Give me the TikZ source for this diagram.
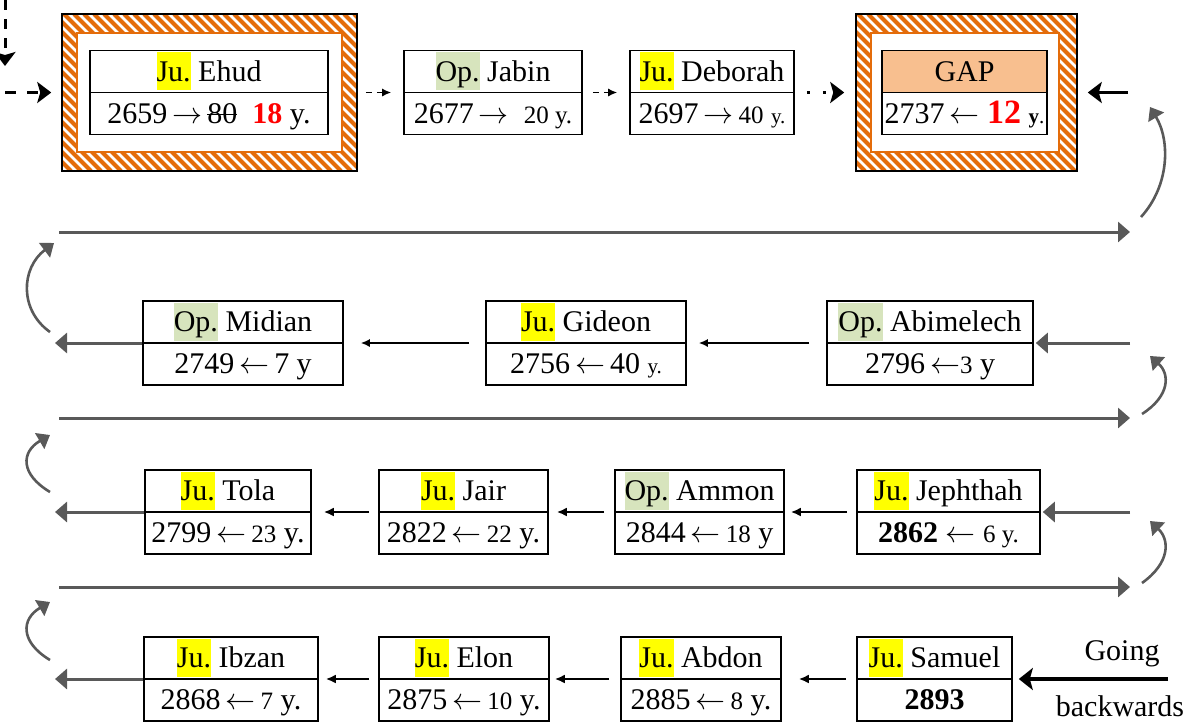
\RequirePackage{fix-cm}
\documentclass[tikz,border=0pt]{standalone}
\usepackage{fontspec}
\setmainfont{Liberation Serif}
\usetikzlibrary{shapes.multipart,arrows.meta}
\definecolor{juyel}{RGB}{255,255,0}
\definecolor{opgrn}{RGB}{215,228,189}
\definecolor{hatchor}{RGB}{228,108,10}
\definecolor{gappeach}{RGB}{248,191,143}
\definecolor{grayc}{RGB}{89,89,89}
\newcommand{\cst}{\rule[-10.5pt]{0pt}{40.5pt}}
\newcommand{\ju}{{\setlength{\fboxsep}{0pt}\colorbox{juyel}{\rule[-9pt]{0pt}{38pt}Ju.}}}
\newcommand{\op}{{\setlength{\fboxsep}{0pt}\colorbox{opgrn}{\rule[-9pt]{0pt}{38pt}Op.}}}
\newcommand{\sm}[1]{{\fontsize{25}{28}\selectfont #1}}
\newcommand{\tn}[1]{{\fontsize{21}{25}\selectfont #1}}
\newcommand{\strk}[1]{\setbox0\hbox{#1}\rlap{\rule[8pt]{\wd0}{1.6pt}}\box0}
\newcommand{\myla}{$\leftarrow$}
\newcommand{\myra}{$\rightarrow$}
\begin{document}
\begin{tikzpicture}[x=1pt,y=-1pt,
  jbox/.style={rectangle split, rectangle split parts=2, draw, line width=1.6pt,
    inner xsep=2pt, inner ysep=0pt, font=\fontsize{30}{34}\selectfont},
  frm/.style={draw, line width=1.5pt, inner sep=0pt},
  hatchline/.style={hatchor, line width=4pt},
  blk/.style={line width=1.5pt, -{Latex[length=9pt,width=8pt]}},
  blkm/.style={line width=2.2pt, -{Latex[length=10pt,width=9pt]}},
  thin dash/.style={line width=1.5pt, dash pattern=on 6pt off 5pt, -{Latex[length=9pt,width=8pt]}},
  big/.style={line width=3pt, -{Stealth[length=14pt,width=21pt,inset=3pt]}},
  gry/.style={draw=grayc, line width=3pt, -{Triangle[length=12pt,width=20pt]}},
  gcur/.style={draw=grayc, line width=2.6pt, -{Triangle[length=12pt,width=18pt]}},
  lbl/.style={font=\fontsize{30}{34}\selectfont, inner sep=0pt, anchor=base}
]
\useasboundingbox (0,0) rectangle (1194,721);

% ---------- hatched frames ----------
\begin{scope}
  \clip (62,14) rectangle (357,171);
  \foreach \i in {0,...,46} \draw[hatchline] (-96+\i*10,14) -- ++(157,157);
\end{scope}
\draw[hatchor, line width=2.2pt, fill=white] (77,33) rectangle (342,152);
\node[frm, minimum width=295pt, minimum height=157pt] (ehudF) at (209.5,92.5) {};

\begin{scope}
  \clip (856,14) rectangle (1077,171);
  \foreach \i in {0,...,39} \draw[hatchline] (698+\i*10,14) -- ++(157,157);
\end{scope}
\draw[hatchor, line width=2.2pt, fill=white] (871,33) rectangle (1059,152);
\node[frm, minimum width=221pt, minimum height=157pt] (gapF) at (966.5,92.5) {};

% ---------- row 1 ----------
\node[jbox, minimum width=238pt] (ehud) at (209,92.5)
  {\cst\ju{} Ehud\nodepart{second}\cst 2659\,\myra\,\strk{80}\ \ {\color{red}\textbf{18}} y.};
\node[jbox, minimum width=178pt] (jabin) at (493,92.5)
  {\cst\op{} Jabin\nodepart{second}\cst 2677\,\myra\ \ \sm{20 y.}};
\node[jbox, minimum width=164pt] (deborah) at (712,92.5)
  {\cst\ju{} Deborah\nodepart{second}\cst 2697\,\myra\,\sm{40} \tn{y.}};
\node[jbox, minimum width=165pt, rectangle split part fill={gappeach,white}] (gap) at (964.5,92.5)
  {\cst GAP\nodepart{second}\cst 2737\,\myla\ {\color{red}\fontsize{34}{36}\selectfont\textbf{12}}\ \tn{\textbf{y}.}};

% ---------- row 2 ----------
\node[jbox, minimum width=200pt] (midian) at (243,343)
  {\cst\op{} Midian\nodepart{second}\cst 2749\,\myla\,7 y};
\node[jbox, minimum width=200pt] (gideon) at (586,343)
  {\cst\ju{} Gideon\nodepart{second}\cst 2756\,\myla\,40 \tn{y.}};
\node[jbox, minimum width=206pt] (abimelech) at (930,343)
  {\cst\op{} Abimelech\nodepart{second}\cst 2796\,\myla\sm{3} y};

% ---------- row 3 ----------
\node[jbox, minimum width=166pt] (tola) at (228,512)
  {\cst\ju{} Tola\nodepart{second}\cst 2799\,\myla\,\sm{23} y.};
\node[jbox, minimum width=169pt] (jair) at (463.5,512)
  {\cst\ju{} Jair\nodepart{second}\cst 2822\,\myla\,\sm{22} y.};
\node[jbox, minimum width=169pt] (ammon) at (699.5,512)
  {\cst\op{} Ammon\nodepart{second}\cst 2844\,\myla\,\sm{18} y};
\node[jbox, minimum width=183pt] (jephthah) at (948.5,512)
  {\cst\ju{} Jephthah\nodepart{second}\cst\textbf{2862}\ \myla\ \sm{6 y.}};

% ---------- row 4 ----------
\node[jbox, minimum width=174pt] (ibzan) at (231,679)
  {\cst\ju{} Ibzan\nodepart{second}\cst 2868\,\myla\,\sm{7} y.};
\node[jbox, minimum width=170pt] (elon) at (464,679)
  {\cst\ju{} Elon\nodepart{second}\cst 2875\,\myla\,\sm{10} y.};
\node[jbox, minimum width=160pt] (abdon) at (701,679)
  {\cst\ju{} Abdon\nodepart{second}\cst 2885\,\myla\,\sm{8} y.};
\node[jbox, minimum width=155pt] (samuel) at (934.5,679)
  {\cst\ju{} Samuel\nodepart{second}\cst\textbf{2893}};

\node[lbl] (going) at (1122,660) {Going};
\node[lbl] (backw) at (1120,716) {backwards};

% ---------- coordinates ----------
\coordinate (tl0) at (5,0);
\coordinate (tl1) at (5,66);
\coordinate (inL) at (5,92.5);
\coordinate (gapIn) at (1128,92.5);
\coordinate (samIn) at (1168,679);
\coordinate (r2in) at (1130,343);
\coordinate (r3in) at (1130,512);
\coordinate (r2out) at (55,343);
\coordinate (r3out) at (55,512);
\coordinate (r4out) at (55,679);
\coordinate (L1a) at (59,232);  \coordinate (L1b) at (1130,232);
\coordinate (L2a) at (59,418);  \coordinate (L2b) at (1130,418);
\coordinate (L3a) at (59,587);  \coordinate (L3b) at (1130,587);
\coordinate (cl2a) at (50,332); \coordinate (cl2b) at (54,243);
\coordinate (cl3a) at (50,492); \coordinate (cl3b) at (50,435);
\coordinate (cl4a) at (50,660); \coordinate (cl4b) at (50,602);
\coordinate (cr1a) at (1141,217); \coordinate (cr1b) at (1150,107);
\coordinate (cr2a) at (1142,414); \coordinate (cr2b) at (1150,356);
\coordinate (cr3a) at (1142,583); \coordinate (cr3b) at (1150,521);

% ---------- top row connectors ----------
\draw[big, dash pattern=on 10pt off 9pt] (tl0) -- (tl1);
\draw[big, dash pattern=on 11pt off 11pt] (inL) -- ([xshift=-10pt]ehudF.west);
\draw[thin dash] ([xshift=8pt]ehudF.east) -- ([xshift=-12pt]jabin.west);
\draw[thin dash] ([xshift=10pt]jabin.east) -- ([xshift=-12pt]deborah.west);
\draw[big, dash pattern=on 3pt off 13pt] ([xshift=12pt]deborah.east) -- ([xshift=-11pt]gapF.west);
\draw[big] (gapIn) -- ([xshift=10pt]gapF.east);

% ---------- row connectors ----------
\draw[blk] ([xshift=-16pt]gideon.west) -- ([xshift=17pt]midian.east);
\draw[blk] ([xshift=-17pt]abimelech.west) -- ([xshift=12pt]gideon.east);
\draw[blkm] ([xshift=-9pt]jair.west) -- ([xshift=12pt]tola.east);
\draw[blkm] ([xshift=-10pt]ammon.west) -- ([xshift=8pt]jair.east);
\draw[blkm] ([xshift=-9pt]jephthah.west) -- ([xshift=6pt]ammon.east);
\draw[blkm] ([xshift=-9pt]elon.west) -- ([xshift=7pt]ibzan.east);
\draw[blkm] ([xshift=-11pt]abdon.west) -- ([xshift=5pt]elon.east);
\draw[blkm] ([xshift=-10pt]samuel.west) -- ([xshift=17pt]abdon.east);
\draw[line width=4pt, -{Stealth[length=14pt,width=22pt,inset=3pt]}] (samIn) -- ([xshift=6pt]samuel.east);

% ---------- gray loop ----------
\draw[gry] (r2in) -- ([xshift=2pt]abimelech.east);
\draw[gry] (r3in) -- ([xshift=2pt]jephthah.east);
\draw[gry] (midian.west) -- (r2out);
\draw[gry] (tola.west) -- (r3out);
\draw[gry] (ibzan.west) -- (r4out);
\draw[gry] (L1a) -- (L1b);
\draw[gry] (L2a) -- (L2b);
\draw[gry] (L3a) -- (L3b);
\draw[gcur] (cl2a) .. controls (19,310) and (21,268) .. (cl2b);
\draw[gcur] (cl3a) .. controls (20,474) and (21,452) .. (cl3b);
\draw[gcur] (cl4a) .. controls (20,642) and (21,619) .. (cl4b);
\draw[gcur] (cr1a) .. controls (1170,185) and (1170,140) .. (cr1b);
\draw[gcur] (cr2a) .. controls (1170,396) and (1170,374) .. (cr2b);
\draw[gcur] (cr3a) .. controls (1170,563) and (1170,540) .. (cr3b);
\end{tikzpicture}
\end{document}
